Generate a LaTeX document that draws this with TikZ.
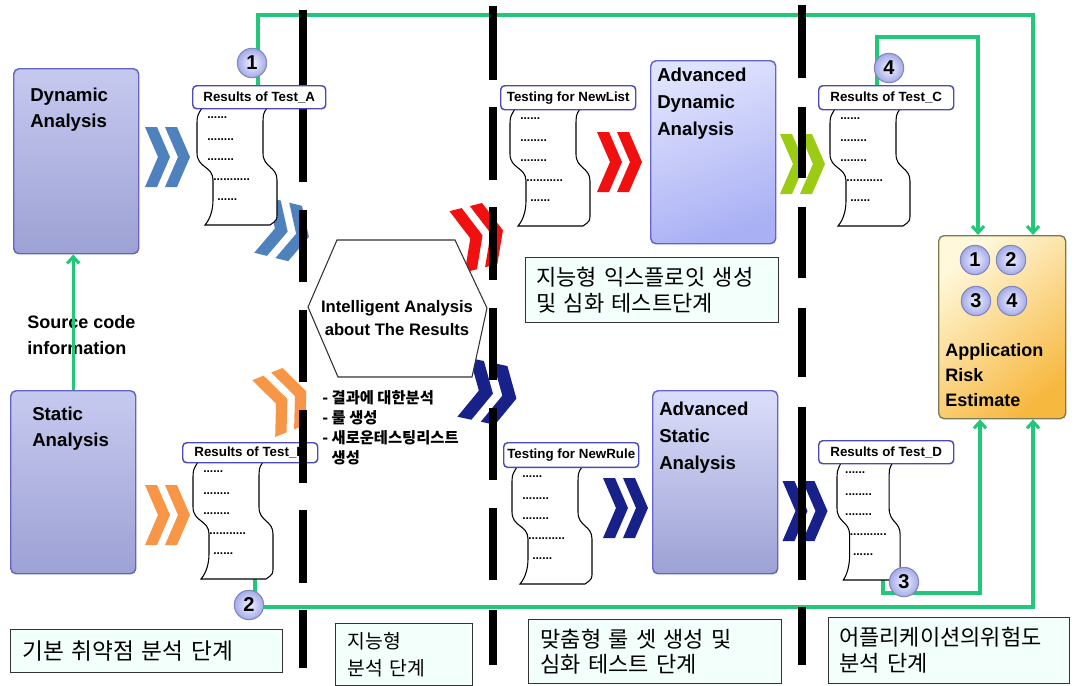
\documentclass[tikz,border=0pt]{standalone}
\usepackage{fontspec}
\setmainfont{Liberation Sans}
\newfontfamily\kr{Noto Sans CJK KR}
\usetikzlibrary{arrows.meta,calc}
\definecolor{grn}{HTML}{22C77A}
\definecolor{cblue}{HTML}{4F81BD}
\definecolor{corange}{HTML}{F79646}
\definecolor{cred}{HTML}{F01010}
\definecolor{cnavy}{HTML}{18208A}
\definecolor{clime}{HTML}{9BCB12}
\definecolor{boxedge}{HTML}{6464C8}
\definecolor{lbledge}{HTML}{4A4AB8}
\definecolor{phasefill}{HTML}{F3FFFA}
\definecolor{numedge}{HTML}{8088C0}
\definecolor{numin}{HTML}{F2F3FF}
\definecolor{numout}{HTML}{A4AAE8}
\definecolor{dtop}{HTML}{C6C9EF}
\definecolor{dbot}{HTML}{9DA1D4}
\definecolor{atop}{HTML}{E0E3FD}
\definecolor{abot}{HTML}{A9B0F4}
\definecolor{ytop}{HTML}{FFF8DA}
\definecolor{ybot}{HTML}{F7B840}
\definecolor{appedge}{HTML}{7A7A50}
\begin{document}
\begin{tikzpicture}[x=0.75pt,y=-0.75pt,
  gline/.style={draw=grn, line width=2.3pt},
  arr/.style={-{Straight Barb[length=5pt,width=9pt]}},
  dline/.style={line width=6pt, black},
  anbox/.style={draw=boxedge, line width=1.1pt, rounded corners=4pt, inner sep=0pt, anchor=north west},
  btxt/.style={anchor=north west, inner sep=0pt, align=left, font=\bfseries\fontsize{14}{20.25}\selectfont},
  lbl/.style={draw=lbledge, line width=1.1pt, rounded corners=3pt, fill=white, inner sep=0pt, font=\bfseries\fontsize{10}{12}\selectfont, anchor=north west},
  phase/.style={draw=black!80, line width=0.8pt, fill=phasefill, anchor=north west, align=left, inner ysep=0pt},
  numc/.style={circle, draw=numedge, line width=0.8pt, inner color=numin, outer color=numout, minimum size=22pt, inner sep=0pt, font=\bfseries\fontsize{15}{15}\selectfont},
  dots/.style={anchor=west, inner sep=0pt, font=\bfseries\fontsize{9}{9}\selectfont},
  chev/.pic={
    \fill (-22.5,-30) -- (-10.5,-30) -- (2.5,0) -- (-10.5,30) -- (-22.5,30) -- (-9.5,0) -- cycle;
    \fill (-2.5,-30) -- (9.5,-30) -- (22.5,0) -- (9.5,30) -- (-2.5,30) -- (10.5,0) -- cycle;
  },
  docshape/.pic={
    \draw[line width=0.8pt, fill=white] (5,0) -- (70,0) .. controls (66,6) .. (66,18) -- (66,45)
      .. controls (66,60) and (80,58) .. (80,72) -- (80,105) .. controls (80,112) .. (73,117)
      -- (8,117) .. controls (14,110) and (16,100) .. (16,92) -- (16,72)
      .. controls (16,58) and (0,60) .. (0,45) -- (0,18) .. controls (0,8) .. (5,0) -- cycle;
    \node[dots] at (10,10) {......};
    \node[dots] at (10,32) {........};
    \node[dots] at (10,52) {........};
    \node[dots] at (16,72) {...........};
    \node[dots] at (20,92) {......};
  }
]
\useasboundingbox (0,0) rectangle (1076,686);
\fill[white] (0,0) rectangle (1076,686);

% ---------- analysis boxes ----------
\node[anbox, top color=dtop, bottom color=dbot, minimum width=93.75pt, minimum height=138.75pt] (dyn) at (13,68) {};
\node[anbox, top color=dtop, bottom color=dbot, minimum width=93.75pt, minimum height=137.25pt] (sta) at (10,390) {};
\node[anbox, top color=atop, bottom color=abot, shading angle=20, minimum width=93.75pt, minimum height=137.25pt] (adyn) at (650,60) {};
\node[anbox, top color=atop!80!dtop, bottom color=dbot, minimum width=93.75pt, minimum height=137.25pt] (asta) at (652,390) {};
\node[draw=appedge, line width=1pt, rounded corners=4pt, inner sep=0pt, anchor=north west, top color=ytop, bottom color=ybot, shading angle=40, minimum width=95.25pt, minimum height=137.25pt] (app) at (938,235) {};

\node[btxt, font=\bfseries\fontsize{14}{19.5}\selectfont] (dyntxt) at (30,88) {Dynamic\\Analysis};
\node[btxt, font=\bfseries\fontsize{14}{19.5}\selectfont] (statxt) at (32,407) {Static\\Analysis};
\node[btxt] (adyntxt) at (657,68) {Advanced\\Dynamic\\Analysis};
\node[btxt] (astatxt) at (659,402) {Advanced\\Static\\Analysis};
\node[btxt, font=\bfseries\fontsize{13.5}{18.75}\selectfont] (apptxt) at (945,343) {Application\\Risk\\Estimate};
\node[btxt, font=\bfseries\fontsize{13.5}{19.5}\selectfont] (srctxt) at (27,315) {Source code\\information};

% ---------- green connectors ----------
\coordinate (g1a) at (258,85);  \coordinate (g1b) at (1033,15);
\coordinate (g4a) at (877,85);  \coordinate (g4b) at (978,37);
\coordinate (g3a) at (883,577); \coordinate (g3b) at (980,593);
\coordinate (g2a) at (255,578); \coordinate (g2b) at (1033,607);
\draw[gline, arr] (g1a) |- (g1b) -- (g1b |- app.north);
\draw[gline, arr] (g4a) |- (g4b) -- (g4b |- app.north);
\draw[gline, arr] (g3a) |- (g3b) -- (g3b |- app.south);
\draw[gline, arr] (g2a) |- (g2b) -- (g2b |- app.south);
\draw[gline, arr] (sta.north) -- (sta.north |- dyn.south);

% ---------- chevrons ----------
\pic[color=cblue] at (167.5,157) {chev};
\pic[color=corange] at (167.5,515) {chev};
\pic[color=cred] at (619.5,162) {chev};
\pic[color=cnavy] at (625.5,508) {chev};
\pic[color=clime] at (802.5,164) {chev};
\pic[color=cnavy] at (805,511) {chev};
\pic[color=cblue, rotate=-14, xscale=1.15, scale=0.95] at (285,231) {chev};
\pic[color=cred, rotate=14, scale=1.05] at (480,236) {chev};
\pic[color=corange, rotate=22, scale=1.02] at (285,400) {chev};
\pic[color=cnavy, rotate=-12, xscale=1.2] at (490,393) {chev};

% ---------- documents ----------
\pic (docA) at (197,108) {docshape};
\pic (docB) at (193,462) {docshape};
\pic (docNL) at (510,109) {docshape};
\pic (docC) at (830,109) {docshape};
\pic (docNR) at (512,467) {docshape};
\pic[xscale=0.79] (docD) at (837,463) {docshape};

\node[lbl, minimum width=101.25pt, minimum height=15pt] (lblB) at (182,442) {Results of Test\_B};

% ---------- dashed separators ----------
\foreach \ya/\yb in {10/182, 210/282, 310/382, 410/483, 510/583, 610/668}
  \draw[dline] (303,\ya) -- (303,\yb);
\foreach \ya/\yb in {6/80, 107/180, 207/280, 308/380, 408/480, 508/580, 610/665}
  \draw[dline] (493,\ya) -- (493,\yb);
\foreach \ya/\yb in {5/78, 107/178, 207/278, 308/377, 407/580, 607/665}
  \draw[dline] (802,\ya) -- (802,\yb);

% ---------- labels ----------
\node[lbl, minimum width=99.75pt, minimum height=17.25pt] (lblA) at (192,85) {Results of Test\_A};
\node[lbl, minimum width=101.25pt, minimum height=18pt] (lblNL) at (500,85) {Testing for NewList};
\node[lbl, minimum width=101.25pt, minimum height=18pt] (lblC) at (818,85) {Results of Test\_C};
\node[lbl, minimum width=101.25pt, minimum height=18.5pt] (lblNR) at (503,442) {Testing for NewRule};
\node[lbl, minimum width=101.25pt, minimum height=17.25pt] (lblD) at (818,440) {Results of Test\_D};

% ---------- hexagon ----------
\draw[line width=0.8pt, draw=black!80, fill=white] (337,240) -- (455,240) -- (487,308) -- (472,377) -- (338,377) -- (308,307) -- cycle;
\node[align=center, inner sep=0pt, font=\bfseries\fontsize{12.5}{17}\selectfont] (hex) at (397,318) {Intelligent Analysis\\about The Results};
\node[anchor=north west, inner sep=0pt, align=left, font={\kr\bfseries\fontsize{11.5}{15}\selectfont}] (bul) at (322,390)
  {- 결과에 대한분석\\- 룰 생성\\- 새로운테스팅리스트\\\hphantom{- }생성};

% ---------- number circles ----------
\node[numc] (c1) at (252,63) {1};
\node[numc] (c4) at (889,68) {4};
\node[numc] (c3) at (904,582) {3};
\node[numc] (c2) at (249,605) {2};
\node[numc] (a1) at (975,260) {1};
\node[numc] (a2) at (1011,260) {2};
\node[numc] (a3) at (976,301) {3};
\node[numc] (a4) at (1012,301) {4};

% ---------- phase boxes ----------
\node[phase, font={\kr\fontsize{17}{20}\selectfont}, inner xsep=9pt, text width=186pt, minimum height=32.25pt] (p1) at (10,629) {기본 취약점 분석 단계};
\node[phase, font={\kr\fontsize{14.5}{20}\selectfont}, inner xsep=9pt, text width=85pt, minimum height=46.5pt] (p2) at (335,623) {지능형\\분석 단계};
\node[phase, font={\kr\fontsize{16.5}{18.75}\selectfont}, inner xsep=9pt, text width=172pt, minimum height=48pt] (p3) at (528,619) {맞춤형 룰 셋 생성 및\\심화 테스트 단계};
\node[phase, font={\kr\fontsize{16.5}{19.5}\selectfont}, inner xsep=8pt, text width=165pt, minimum height=49.5pt] (p4) at (828,617) {어플리케이션의위험도\\분석 단계};
\node[phase, font={\kr\fontsize{16.5}{20}\selectfont}, inner xsep=8pt, text width=174pt, minimum height=48.75pt] (p5) at (525,257) {지능형 익스플로잇 생성\\및 심화 테스트단계};
\end{tikzpicture}
\end{document}
